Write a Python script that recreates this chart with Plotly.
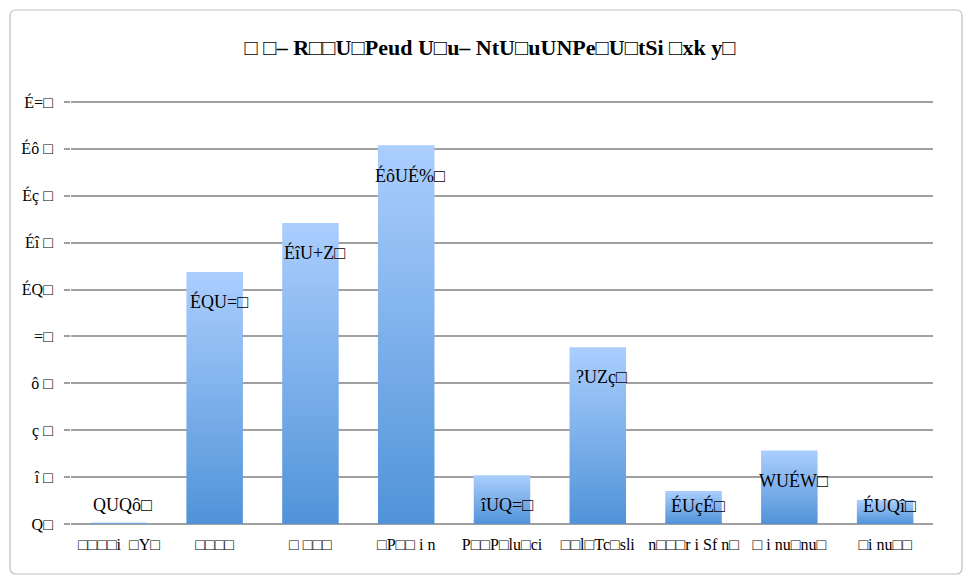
import plotly.graph_objects as go

# Category labels (as shown, garbled in the reference)
categories = ["□□□□i  □Y□", "□□□□", "□ □□□", "□P□□ i n", "P□□P□lu□ci",
              "□□l□Tc□sli", "n□□□r i Sf n□", "□ i nu□nu□", "□i nu□□"]
# Values (percent)
values = [0.06, 10.75, 12.84, 16.15, 2.08, 7.54, 1.41, 3.13, 1.02]
# Data labels as displayed
value_labels = ["QUQô□", "ÉQU=□", "ÉîU+Z□", "ÉôUÉ%□", "îUQ=□",
                "?UZç□", "ÉUçÉ□", "WUÉW□", "ÉUQî□"]
# Y tick values and labels as displayed
y_ticks = [0, 2, 4, 6, 8, 10, 12, 14, 16, 18]
y_ticklabels = ["Q□", "î □", "ç □", "ô □", "=□", "ÉQ□", "Éî □", "Éç □", "Éô □", "É=□"]
title_text = "□ □– R□□U□Peud U□u– NtU□uUNPe□U□tSi □xk y□"

FONT = "Liberation Serif, Times New Roman, serif"
BAR_W = 0.59

# page body has an 8px margin; figure placed at (8,8)
W, H = 964, 576
L, T, R, B = 63, 92, 39, 60
PW, PH = W - L - R, H - T - B
YMAX = 18 + 2 / (422 / 18)

fig = go.Figure()
for i, v in enumerate(values):
    h = BAR_W / 2
    fig.add_trace(go.Scatter(
        x=[i - h, i - h, i + h, i + h, i - h],
        y=[0, v, v, 0, 0],
        mode="lines",
        line=dict(width=0),
        fill="toself",
        fillgradient=dict(type="vertical",
                          colorscale=[[0, "#5093d8"], [1, "#abcefe"]]),
        hoverinfo="skip",
        showlegend=False,
    ))

for i, (v, t) in enumerate(zip(values, value_labels)):
    fig.add_annotation(
        x=i, y=max(v - 1.28, 0.81), text=t, showarrow=False,
        xshift=4, font=dict(family=FONT, size=18, color="#000000"),
        xref="x", yref="y",
    )

# rounded outer frame (screen box 10..962 x 10..574)
def px_x(p):
    return (p - 8 - L) / PW

def px_y(p):
    return ((H - B) - (p - 8)) / PH

r = 6
x0, x1, y0, y1 = 10, 962, 10, 574
frame_path = (
    f"M {px_x(x0 + r)},{px_y(y0)} L {px_x(x1 - r)},{px_y(y0)} "
    f"Q {px_x(x1)},{px_y(y0)} {px_x(x1)},{px_y(y0 + r)} "
    f"L {px_x(x1)},{px_y(y1 - r)} Q {px_x(x1)},{px_y(y1)} {px_x(x1 - r)},{px_y(y1)} "
    f"L {px_x(x0 + r)},{px_y(y1)} Q {px_x(x0)},{px_y(y1)} {px_x(x0)},{px_y(y1 - r)} "
    f"L {px_x(x0)},{px_y(y0 + r)} Q {px_x(x0)},{px_y(y0)} {px_x(x0 + r)},{px_y(y0)} Z"
)

fig.update_layout(
    width=W, height=H,
    margin=dict(l=L, r=R, t=T, b=B, autoexpand=False),
    paper_bgcolor="white", plot_bgcolor="white",
    title=dict(text="<b>" + title_text + "</b>", x=(490 - 8) / W, xanchor="center",
               y=1 - (47 - 8) / H, yanchor="middle",
               font=dict(family=FONT, size=22, color="#000000")),
    xaxis=dict(range=[-0.5, 8.5], tickvals=list(range(len(categories))),
               ticktext=categories, showgrid=False, zeroline=False,
               showline=False, ticks="", ticklabelstandoff=9,
               tickfont=dict(family=FONT, size=16, color="#000000")),
    yaxis=dict(range=[0, YMAX], tickvals=y_ticks, ticktext=y_ticklabels,
               showgrid=True, gridcolor="#a0a0a0", gridwidth=1.5,
               zeroline=True, zerolinecolor="#a0a0a0", zerolinewidth=1.5,
               ticks="outside", ticklen=6, tickcolor="#a0a0a0", tickwidth=1.5,
               tickfont=dict(family=FONT, size=16, color="#000000"),
               ticklabelstandoff=8),
    shapes=[dict(type="path", xref="paper", yref="paper", path=frame_path,
                 line=dict(color="#bfbfbf", width=1.2), layer="below")],
)

fig.write_html("out.html")
